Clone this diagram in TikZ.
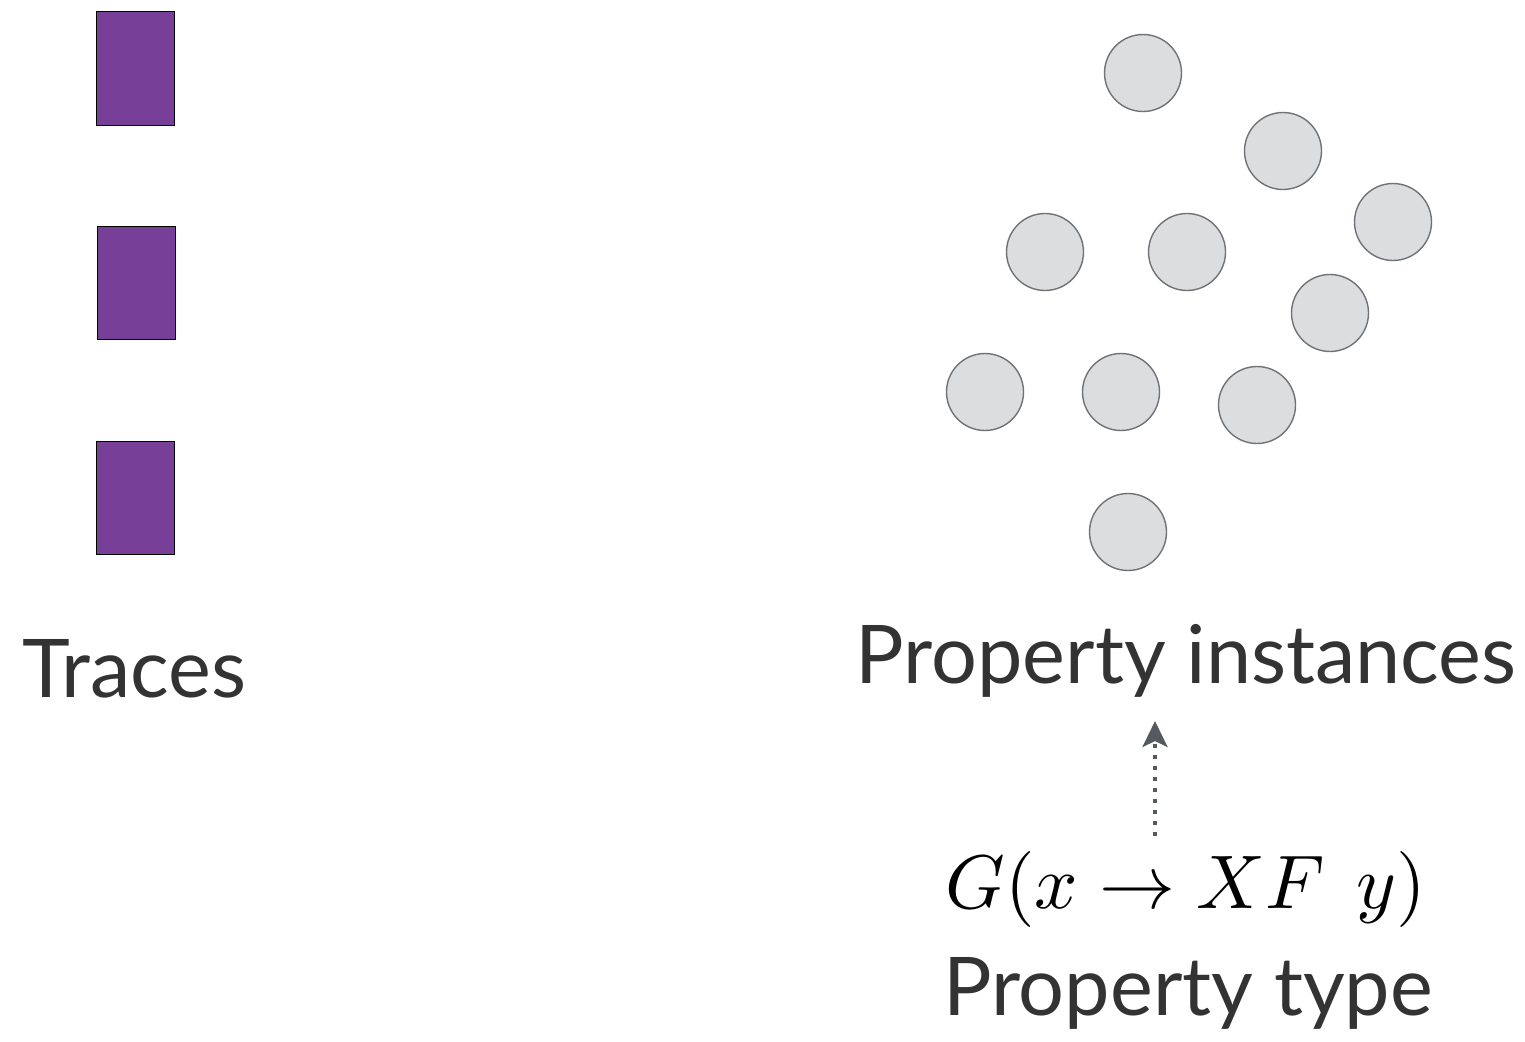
\documentclass[tikz,border=0pt]{standalone}
\usepackage{graphicx}
\usepackage{fontspec}
\setmainfont{Lato}
\usetikzlibrary{arrows.meta}
\definecolor{trace}{RGB}{120,63,152}
\definecolor{instfill}{RGB}{220,221,223}
\definecolor{instline}{RGB}{112,114,118}
\definecolor{txt}{RGB}{51,51,51}
\definecolor{arr}{RGB}{85,90,96}
\begin{document}
\begin{tikzpicture}[x=1pt,y=-1pt,
  tracebox/.style={draw=black,line width=1pt,fill=trace,minimum width=78pt,minimum height=113pt,inner sep=0pt},
  inst/.style={circle,draw=instline,line width=1.4pt,fill=instfill,minimum size=77pt,inner sep=0pt},
  lbl/.style={text=txt,font=\fontsize{81}{96}\selectfont,inner sep=0pt,anchor=base},
  dotarrow/.style={draw=arr,line width=4pt,dash pattern=on 4pt off 7pt,-{Stealth[length=26pt,width=25pt,inset=6pt]}}
]
\useasboundingbox (0,0) rectangle (1525,1041);
\node[tracebox] (t1) at (135,68.5) {};
\node[tracebox] (t2) at (136,282.5) {};
\node[tracebox] (t3) at (135,497.5) {};
\node[lbl,anchor=base west] (traces) at (22,697) {Traces};

\node[inst] (c1) at (1143,73) {};
\node[inst] (c2) at (1283,151) {};
\node[inst] (c3) at (1393,222) {};
\node[inst] (c4) at (1045,252) {};
\node[inst] (c5) at (1187,252) {};
\node[inst] (c6) at (1330,313) {};
\node[inst] (c7) at (985,392) {};
\node[inst] (c8) at (1121,392) {};
\node[inst] (c9) at (1257,405) {};
\node[inst] (c10) at (1128,532) {};

\node[lbl] (pi) at (1186,683) {Property instances};
\node[text=black,inner sep=0pt,anchor=base] (formula) at (1186,908) {\scalebox{7.6}{$G(x \rightarrow XF\ \, y)$}};
\node[lbl] (pt) at (1188,1015) {Property type};

\coordinate (as) at (1155,836);
\coordinate (ae) at (1155,721);
\draw[dotarrow] (as) -- (ae);
\end{tikzpicture}
\end{document}
